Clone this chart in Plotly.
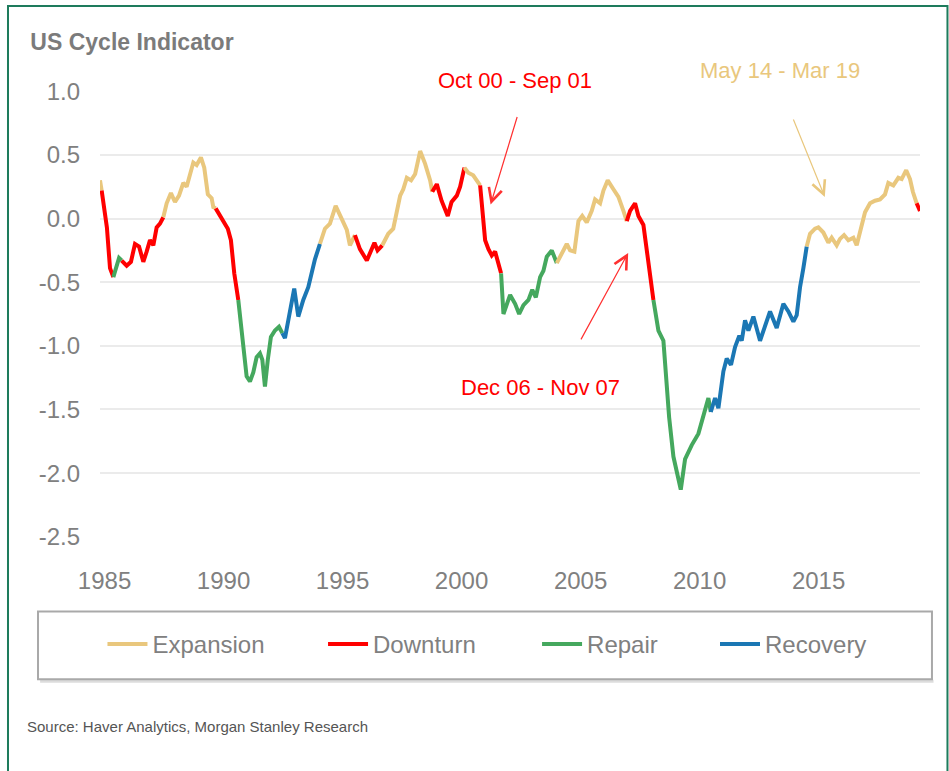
import plotly.graph_objects as go

# US Cycle Indicator (decimal years)
years = [
    1984.81, 1984.88, 1984.94, 1985.10, 1985.23, 1985.37, 1985.51, 1985.61, 1985.72, 1985.93,
    1986.11, 1986.28, 1986.45, 1986.63, 1986.77, 1986.91, 1987.05, 1987.19, 1987.33, 1987.47,
    1987.61, 1987.79, 1987.96, 1988.13, 1988.31, 1988.45, 1988.59, 1988.73, 1988.87, 1989.05,
    1989.19, 1989.34, 1989.50, 1989.57, 1989.67, 1989.85, 1989.99, 1990.18, 1990.31, 1990.45,
    1990.62, 1990.83, 1990.97, 1991.11, 1991.25, 1991.39, 1991.53, 1991.63, 1991.74, 1991.86,
    1991.99, 1992.16, 1992.33, 1992.47, 1992.58, 1992.72, 1992.97, 1993.14, 1993.35, 1993.56,
    1993.84, 1994.05, 1994.26, 1994.47, 1994.71, 1994.96, 1995.18, 1995.31, 1995.52, 1995.73,
    1996.02, 1996.20, 1996.34, 1996.47, 1996.67, 1996.92, 1997.13, 1997.28, 1997.42, 1997.55,
    1997.70, 1997.88, 1998.05, 1998.26, 1998.47, 1998.68, 1998.77, 1998.96, 1999.16, 1999.42,
    1999.58, 1999.80, 1999.94, 2000.12, 2000.28, 2000.49, 2000.64, 2000.78, 2000.87, 2000.99,
    2001.13, 2001.27, 2001.41, 2001.55, 2001.66, 2001.76, 2002.04, 2002.25, 2002.42, 2002.60,
    2002.81, 2002.97, 2003.12, 2003.30, 2003.44, 2003.58, 2003.79, 2004.00, 2004.18, 2004.42,
    2004.56, 2004.74, 2004.91, 2005.07, 2005.26, 2005.47, 2005.61, 2005.82, 2005.96, 2006.14,
    2006.38, 2006.59, 2006.80, 2006.94, 2007.08, 2007.29, 2007.43, 2007.64, 2007.78, 2007.88,
    2008.06, 2008.27, 2008.48, 2008.62, 2008.72, 2008.90, 2009.08, 2009.21, 2009.39, 2009.67,
    2009.95, 2010.16, 2010.37, 2010.47, 2010.65, 2010.79, 2011.00, 2011.14, 2011.32, 2011.49,
    2011.67, 2011.77, 2011.91, 2012.05, 2012.26, 2012.54, 2012.75, 2012.96, 2013.24, 2013.52,
    2013.73, 2013.94, 2014.08, 2014.22, 2014.36, 2014.50, 2014.64, 2014.85, 2014.99, 2015.20,
    2015.41, 2015.55, 2015.76, 2015.90, 2016.07, 2016.25, 2016.46, 2016.60, 2016.77, 2016.95,
    2017.16, 2017.37, 2017.58, 2017.79, 2017.93, 2018.14, 2018.35, 2018.49, 2018.68, 2018.84,
    2018.96, 2019.05, 2019.12, 2019.26,
]
values = [
    0.30, 0.22, 0.14, -0.07, -0.39, -0.46, -0.37, -0.31, -0.33, -0.37,
    -0.34, -0.20, -0.22, -0.34, -0.26, -0.17, -0.21, -0.07, -0.04, 0.01,
    0.12, 0.20, 0.13, 0.18, 0.28, 0.25, 0.34, 0.44, 0.42, 0.48,
    0.40, 0.19, 0.16, 0.09, 0.08, 0.02, -0.02, -0.08, -0.17, -0.43,
    -0.64, -1.01, -1.24, -1.28, -1.21, -1.09, -1.06, -1.11, -1.32, -1.11,
    -0.93, -0.88, -0.85, -0.90, -0.94, -0.80, -0.55, -0.77, -0.64, -0.54,
    -0.32, -0.20, -0.08, -0.04, 0.10, 0.00, -0.09, -0.21, -0.13, -0.24,
    -0.33, -0.25, -0.19, -0.25, -0.21, -0.12, -0.08, 0.04, 0.18, 0.23,
    0.32, 0.30, 0.35, 0.53, 0.43, 0.30, 0.21, 0.27, 0.14, 0.02,
    0.13, 0.18, 0.25, 0.40, 0.36, 0.34, 0.30, 0.26, 0.09, -0.17,
    -0.24, -0.29, -0.26, -0.37, -0.43, -0.75, -0.60, -0.67, -0.75, -0.68,
    -0.64, -0.56, -0.62, -0.46, -0.41, -0.30, -0.25, -0.35, -0.28, -0.20,
    -0.25, -0.26, -0.02, 0.02, -0.03, 0.06, 0.15, 0.12, 0.22, 0.30,
    0.23, 0.17, 0.06, -0.02, 0.06, 0.12, 0.02, -0.05, -0.25, -0.41,
    -0.64, -0.88, -0.96, -1.29, -1.56, -1.87, -2.03, -2.13, -1.89, -1.78,
    -1.69, -1.55, -1.41, -1.52, -1.41, -1.49, -1.20, -1.10, -1.15, -1.01,
    -0.92, -0.96, -0.80, -0.88, -0.77, -0.96, -0.85, -0.73, -0.86, -0.67,
    -0.73, -0.81, -0.76, -0.54, -0.39, -0.22, -0.12, -0.08, -0.07, -0.11,
    -0.19, -0.15, -0.21, -0.16, -0.13, -0.17, -0.15, -0.21, -0.09, 0.05,
    0.12, 0.14, 0.15, 0.19, 0.28, 0.26, 0.32, 0.31, 0.38, 0.31,
    0.21, 0.17, 0.12, 0.06,
]
# E = Expansion, D = Downturn, R = Repair, C = Recovery
phase = (
    "EDDDDRRRDD" "DDDDDDDDDE" "EEEEEEEEEE" "EEEEDDDDDD"
    "RRRRRRRRRR" "RRRCCCCCCC" "CEEEEEEEDD" "DDDDEEEEEE"
    "EEEEEEDDDD" "DDDEEEEDDD" "DDDDRRRRRR" "RRRRRRREEE"
    "EEEEEEEEEE" "EEEDDDDDDD" "RRRRRRRRRR" "RRRCCCCCCC"
    "CCCCCCCCCC" "CCCCCEEEEE" "EEEEEEEEEE" "EEEEEEEEEE"
    "EEDD"
)

phase_names = {"E": "Expansion", "D": "Downturn", "R": "Repair", "C": "Recovery"}
phase_colors = {"E": "#E9C77D", "D": "#FF0000", "R": "#45A85E", "C": "#1B77B4"}
phase_legend = {"E": "legend", "D": "legend2", "R": "legend3", "C": "legend4"}

x_ticks = [1985, 1990, 1995, 2000, 2005, 2010, 2015]
y_ticks = [-2.5, -2.0, -1.5, -1.0, -0.5, 0.0, 0.5, 1.0]
y_labels = ["-2.5", "-2.0", "-1.5", "-1.0", "-0.5", "0.0", "0.5", "1.0"]

FONT = "Liberation Sans, Arial, sans-serif"
GREY = "#808080"

# split the series into runs of one phase, each run joined to the next point
runs = []
start = 0
for i in range(1, len(phase) + 1):
    if i == len(phase) or phase[i] != phase[start]:
        runs.append((phase[start], start, i))
        start = i

fig = go.Figure()
seen = set()
for p, s, e in runs:
    stop = min(e + 1, len(years))
    fig.add_trace(go.Scatter(
        x=years[s:stop], y=values[s:stop], mode="lines",
        line=dict(color=phase_colors[p], width=4),
        name=phase_names[p], legendgroup=p, legend=phase_legend[p],
        showlegend=p not in seen,
    ))
    seen.add(p)

legend_style = dict(orientation="h", yanchor="middle", y=-0.241, xanchor="left",
                    bgcolor="rgba(0,0,0,0)", borderwidth=0, itemwidth=40,
                    font=dict(family=FONT, size=24, color=GREY))

fig.update_layout(
    width=949, height=771,
    paper_bgcolor="white", plot_bgcolor="white",
    margin=dict(l=100, r=29, t=91, b=234),
    title=dict(text="US Cycle Indicator", x=0.032, xref="container", xanchor="left",
               y=0.946, yref="container", yanchor="middle",
               font=dict(family=FONT, size=23, color="#7b7b7b", weight="bold")),
    legend=dict(legend_style, x=0.003),
    legend2=dict(legend_style, x=0.272),
    legend3=dict(legend_style, x=0.533),
    legend4=dict(legend_style, x=0.75),
    xaxis=dict(range=[1984.81, 2019.26], tickvals=x_ticks, showgrid=False, zeroline=False,
               showline=False, ticks="", ticklabelstandoff=27,
               tickfont=dict(family=FONT, size=24, color=GREY)),
    yaxis=dict(range=[-2.502, 1.002], tickvals=y_ticks, ticktext=y_labels, showgrid=True,
               gridcolor="#ebebeb", gridwidth=2, zeroline=False, showline=False, ticks="",
               ticklabelstandoff=19, tickfont=dict(family=FONT, size=24, color=GREY)),
    showlegend=True,
)

# phase annotations with arrows
label_pos = dict(xref="paper", yref="paper", xanchor="center", yanchor="middle", showarrow=False)
fig.add_annotation(label_pos, x=0.506, y=1.0246, text="Oct 00 - Sep 01",
                   font=dict(family=FONT, size=22, color="#FF0000"))
fig.add_annotation(x=2001.22, y=0.11, ax=27, ay=-89, text="", showarrow=True,
                   arrowhead=5, arrowsize=2.2, arrowwidth=1.2, arrowcolor="#FF3030")
fig.add_annotation(label_pos, x=0.5366, y=0.3348, text="Dec 06 - Nov 07",
                   font=dict(family=FONT, size=22, color="#FF0000"))
fig.add_annotation(x=2007.0, y=-0.27, ax=-48, ay=88, text="", showarrow=True,
                   arrowhead=5, arrowsize=2.2, arrowwidth=1.2, arrowcolor="#FF3030")
fig.add_annotation(label_pos, x=0.829, y=1.047, text="May 14 - Mar 19",
                   font=dict(family=FONT, size=22, color="#E9C77D"))
fig.add_annotation(x=2015.26, y=0.17, ax=-32, ay=-79, text="", showarrow=True,
                   arrowhead=5, arrowsize=2.2, arrowwidth=1.2, arrowcolor="#E9C77D")

fig.add_annotation(x=-0.0915, y=-0.4244, xref="paper", yref="paper", xanchor="left",
                   yanchor="middle", showarrow=False,
                   text="Source: Haver Analytics, Morgan Stanley Research",
                   font=dict(family=FONT, size=15, color="#555555"))

# legend box (with a soft shadow) and outer frame
fig.add_shape(type="line", xref="paper", yref="paper", x0=-0.073, x1=1.0165,
              y0=-0.3235, y1=-0.3235, line=dict(color="#dcdcdc", width=3), layer="below")
fig.add_shape(type="rect", xref="paper", yref="paper", x0=-0.0756, x1=1.0146,
              y0=-0.3191, y1=-0.1669, line=dict(color="#a9a9a9", width=2),
              fillcolor="rgba(0,0,0,0)", layer="below")
fig.add_shape(type="rect", xref="paper", yref="paper", x0=-0.1122, x1=1.0335,
              y0=-0.532, y1=1.1904, line=dict(color="#1e7b5c", width=2),
              fillcolor="rgba(0,0,0,0)", layer="below")

# page has a default body margin; drop it so the figure sits at the window corner
fig.write_html("out.html", config={"displayModeBar": False},
               post_script="document.body.style.margin='0';")
